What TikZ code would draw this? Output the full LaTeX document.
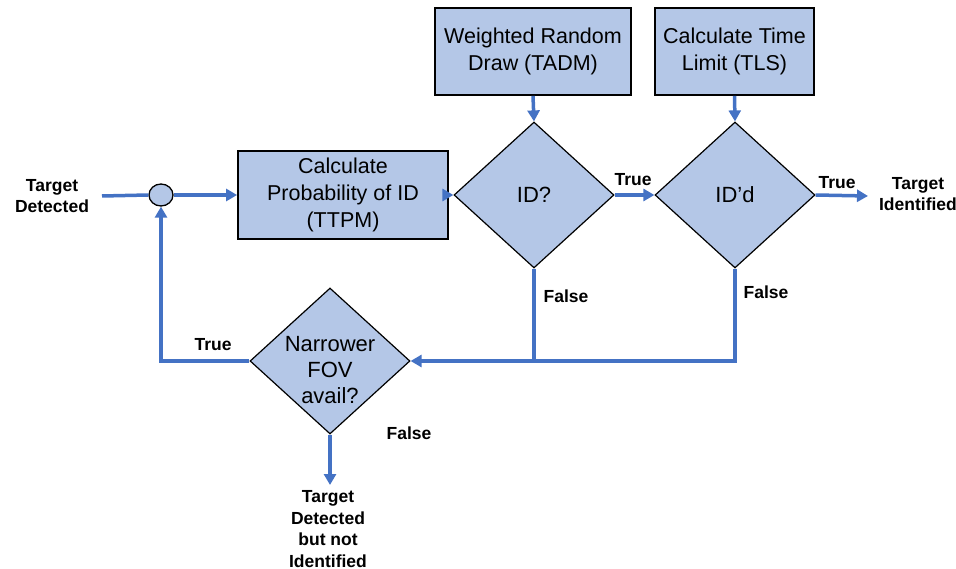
\documentclass[tikz,border=0pt]{standalone}
\usepackage{fontspec}
\setmainfont{Liberation Sans}
\usetikzlibrary{shapes.geometric,arrows.meta}
\definecolor{boxfill}{HTML}{B4C7E7}
\definecolor{flow}{HTML}{4472C4}
\tikzset{
  procbox/.style={draw=black, line width=1.8pt, fill=boxfill, align=center,
    font=\fontsize{21.5}{27}\selectfont, inner sep=0pt},
  decision/.style={draw=black, line width=1.2pt, fill=boxfill, shape=diamond,
    inner sep=0pt, minimum width=160pt, minimum height=146pt},
  dtext/.style={align=center, font=\fontsize{22}{26}\selectfont},
  junction/.style={draw=black, line width=1.3pt, fill=boxfill, ellipse,
    minimum width=24pt, minimum height=22pt, inner sep=0pt},
  lbl/.style={font=\bfseries\fontsize{17.5}{21.5}\selectfont, align=center, inner sep=0pt},
  flowline/.style={draw=flow, line width=3.5pt},
  flowarrow/.style={flowline, -{Triangle[length=11pt,width=12pt]}},
}
\begin{document}
\begin{tikzpicture}[x=1pt,y=-1pt]
\useasboundingbox (0,0) rectangle (956,569);

% process boxes
\node[procbox, minimum width=210pt, minimum height=88pt] (ttpm) at (343,195)
  {Calculate\\Probability of ID\\(TTPM)};
\node[procbox, minimum width=196pt, minimum height=87pt] (tadm) at (533,51.5)
  {Weighted Random\\Draw (TADM)};
\node[procbox, minimum width=159pt, minimum height=87pt] (tls) at (734.5,51.5)
  {Calculate Time\\Limit (TLS)};

% decisions
\node[decision] (id) at (534,195) {};
\node[dtext] at (id.center) {ID?};
\node[decision] (idd) at (735,195) {};
\node[dtext] at (idd.center) {ID'd};
\node[decision] (nar) at (330,361) {};
\node[dtext] at ([yshift=-9pt]nar.center) {Narrower\\FOV\\avail?};

% summing junction
\node[junction] (sum) at (161,195) {};

% terminal texts
\node[lbl] (start) at (52,196) {Target\\Detected};
\node[lbl] (done) at (918,194) {Target\\Identified};
\node[lbl] (fail) at (328,529) {Target\\Detected\\but not\\Identified};
\coordinate (startend) at (102,196);
\coordinate (doneend) at (868,196);
\coordinate (failend) at (330,485);

% connectors
\draw[flowline] (startend) -- (sum.west);
\draw[flowarrow] (sum.east) -- (ttpm.west);
\draw[flowarrow] (ttpm.east) -- (id.west);
\draw[flowarrow] (tadm.south) -- (id.north);
\draw[flowarrow] (tls.south) -- (idd.north);
\draw[flowarrow] (id.east) -- (idd.west);
\draw[flowarrow] (idd.east) -- (doneend);
\draw[flowline] (id.south) -- (id.south |- nar.east);
\draw[flowarrow] (idd.south) -- (idd.south |- nar.east) -- (nar.east);
\draw[flowarrow] (nar.west) -- (sum.south |- nar.west) -- (sum.south);
\draw[flowarrow] (nar.south) -- (failend);

% branch labels
\node[lbl] (t1) at (633,180) {True};
\node[lbl] (t2) at (837,183) {True};
\node[lbl] (f1) at (566,296) {False};
\node[lbl] (f2) at (766,292) {False};
\node[lbl] (t3) at (213,345) {True};
\node[lbl] (f3) at (409,433) {False};
\end{tikzpicture}
\end{document}
